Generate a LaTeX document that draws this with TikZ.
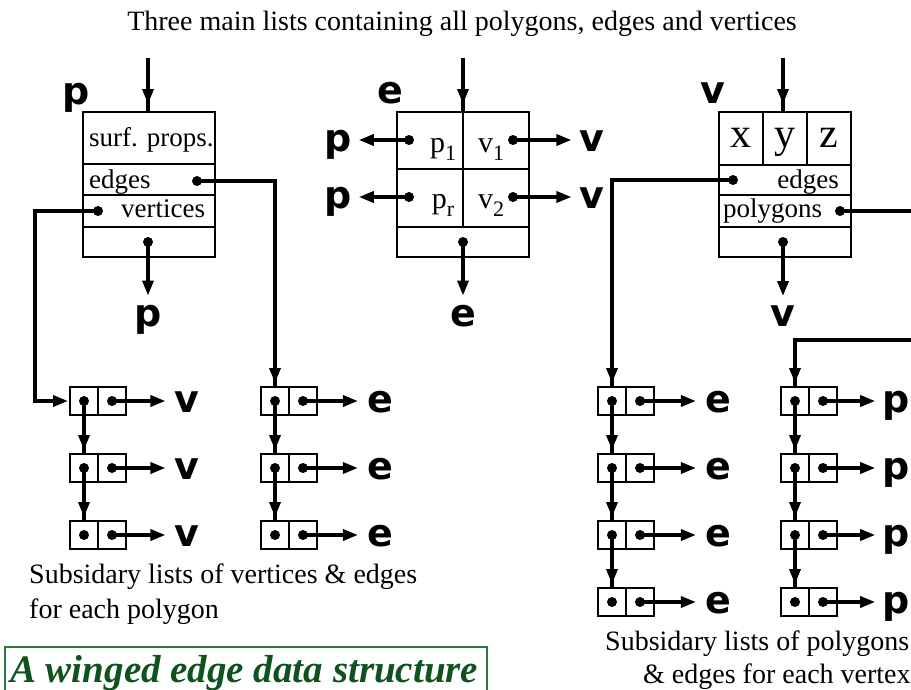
\documentclass[tikz,border=0pt]{standalone}
\usepackage{fontspec}
\setmainfont{Liberation Serif}
\newfontfamily\lblfont{DejaVu Sans}
\usetikzlibrary{arrows.meta,decorations.markings}
\definecolor{titlegreen}{RGB}{14,82,30}
\definecolor{framegreen}{RGB}{50,120,65}
\tikzset{
  cellbox/.style={draw,line width=1.4pt},
  conn/.style={line width=3.4pt},
  tipend/.style={-{Triangle[length=15pt,width=11pt]}},
  arrowat/.style={postaction={decorate},decoration={markings,mark=at position #1 with {\arrow{Triangle[length=15pt,width=11pt]}}}},
  lbl/.style={font=\lblfont\bfseries\fontsize{38}{38}\selectfont,inner sep=0pt,anchor=base},
  txt/.style={font=\fontsize{28}{30}\selectfont,inner sep=0pt},
  boxtxt/.style={font=\fontsize{27}{29}\selectfont,inner sep=0pt},
  bigtxt/.style={font=\fontsize{42}{42}\selectfont,inner sep=0pt,anchor=base},
}
\newcommand\lcell[3]{%
  \draw[cellbox] (#2,#3) rectangle +(56,28);
  \draw[cellbox] (#2+28,#3) -- +(0,28);
  \coordinate (#1l) at (#2+14,#3+14);
  \coordinate (#1r) at (#2+42,#3+14);
  \coordinate (#1t) at (#2+14,#3);
  \fill (#1l) circle (5);
  \fill (#1r) circle (5);
}
\newcommand\subtxt[2]{{\fontsize{30}{30}\selectfont #1}\raisebox{-8pt}{\fontsize{22}{22}\selectfont #2}}
\begin{document}
\begin{tikzpicture}[x=1pt,y=-1pt]
\useasboundingbox (0,0) rectangle (911,689);
\clip (0,0) rectangle (911,689);

% heading
\node[txt,anchor=base] (head) at (462,30) {Three main lists containing all polygons, edges and vertices};

% ---------- polygon record ----------
\draw[cellbox] (83,112) rectangle (215,257);
\draw[cellbox] (83,164) -- (215,164);
\draw[cellbox] (83,195) -- (215,195);
\draw[cellbox] (83,227) -- (215,227);
\node[boxtxt,anchor=base west] (surf) at (89,146) {surf. props.};
\node[boxtxt,anchor=base west] (pedg) at (89,188) {edges};
\node[boxtxt,anchor=base west] (pver) at (121,217) {vertices};
\node[lbl] (ptop) at (76,104) {p};
\coordinate (pin) at (148,58);
\coordinate (pboxtop) at (148,112);
\coordinate (pedot) at (197,181);
\coordinate (pvdot) at (98,211);
\coordinate (pndot) at (148,242);
\fill (pedot) circle (5);
\fill (pvdot) circle (5);
\fill (pndot) circle (5);
\node[lbl] (pnext) at (148,326) {p};
\draw[conn,arrowat=-8pt] (pin) -- (pboxtop);
\draw[conn,tipend,shorten >=9pt] (pndot) -- (pnext.north);

% ---------- edge record ----------
\draw[cellbox] (397,112) rectangle (529,257);
\draw[cellbox] (397,169) -- (529,169);
\draw[cellbox] (397,227) -- (529,227);
\draw[cellbox] (463,112) -- (463,227);
\node[lbl] (etop) at (390,103) {e};
\node[boxtxt,anchor=base] (ep1) at (443,152) {\subtxt{p}{1}};
\node[boxtxt,anchor=base] (ev1) at (491,152) {\subtxt{v}{1}};
\node[boxtxt,anchor=base] (epr) at (443,208) {\subtxt{p}{r}};
\node[boxtxt,anchor=base] (ev2) at (491,208) {\subtxt{v}{2}};
\coordinate (ein) at (463,58);
\coordinate (eboxtop) at (463,112);
\coordinate (ep1d) at (409,140);
\coordinate (eprd) at (409,197);
\coordinate (ev1d) at (513,140);
\coordinate (ev2d) at (513,197);
\coordinate (endot) at (463,242);
\foreach \d in {ep1d,eprd,ev1d,ev2d,endot} \fill (\d) circle (5);
\node[lbl] (lp1) at (338,151) {p};
\node[lbl] (lp2) at (338,208) {p};
\node[lbl] (rv1) at (592,151) {v};
\node[lbl] (rv2) at (592,208) {v};
\node[lbl] (enext) at (463,326) {e};
\draw[conn,arrowat=-8pt] (ein) -- (eboxtop);
\draw[conn,tipend,shorten >=7pt] (ep1d) -- (lp1.east |- ep1d);
\draw[conn,tipend,shorten >=7pt] (eprd) -- (lp2.east |- eprd);
\draw[conn,tipend,shorten >=8pt] (ev1d) -- (rv1.west |- ev1d);
\draw[conn,tipend,shorten >=8pt] (ev2d) -- (rv2.west |- ev2d);
\draw[conn,tipend,shorten >=9pt] (endot) -- (enext.north);

% ---------- vertex record ----------
\draw[cellbox] (719,112) rectangle (851,257);
\draw[cellbox] (719,165) -- (851,165);
\draw[cellbox] (719,195) -- (851,195);
\draw[cellbox] (719,227) -- (851,227);
\draw[cellbox] (763,112) -- (763,165);
\draw[cellbox] (807,112) -- (807,165);
\node[bigtxt] (vx) at (741,147) {x};
\node[bigtxt] (vy) at (785,147) {y};
\node[bigtxt] (vz) at (829,147) {z};
\node[boxtxt,anchor=base east] (vedg) at (839,188) {edges};
\node[boxtxt,anchor=base west] (vpol) at (723,217) {polygons};
\node[lbl] (vtop) at (713,103) {v};
\coordinate (vin) at (783,58);
\coordinate (vboxtop) at (783,112);
\coordinate (vedot) at (733,180);
\coordinate (vpdot) at (840,211);
\coordinate (vndot) at (783,242);
\fill (vedot) circle (5);
\fill (vpdot) circle (5);
\fill (vndot) circle (5);
\node[lbl] (vnext) at (783,326) {v};
\draw[conn,arrowat=-8pt] (vin) -- (vboxtop);
\draw[conn,tipend,shorten >=9pt] (vndot) -- (vnext.north);

% ---------- subsidiary lists of a polygon ----------
\lcell{A1}{70}{387}
\lcell{A2}{70}{454}
\lcell{A3}{70}{521}
\lcell{B1}{261}{387}
\lcell{B2}{261}{454}
\lcell{B3}{261}{521}
\foreach \c/\t in {A1/387,A2/454,A3/521}{
  \node[lbl] (\c v) at (187,\t+25) {v};
  \draw[conn,tipend,shorten >=9pt] (\c r) -- (\c v.west |- \c r);
}
\foreach \c/\t in {B1/387,B2/454,B3/521}{
  \node[lbl] (\c e) at (380,\t+25) {e};
  \draw[conn,tipend,shorten >=9pt] (\c r) -- (\c e.west |- \c r);
}
\draw[conn,arrowat=-4pt] (A1l) -- (A2t);
\draw[conn,arrowat=-4pt] (A2l) -- (A3t);
\draw[conn,arrowat=-4pt] (B1l) -- (B2t);
\draw[conn,arrowat=-4pt] (B2l) -- (B3t);
\draw[conn,tipend,shorten >=2pt] (pvdot) -- (35,211) -- (35,401) -- (A1l -| 70,0);
\draw[conn,arrowat=-4pt] (pedot) -- (B1t |- pedot) -- (B1t);

\node[txt,anchor=base west] (capA) at (29,583) {Subsidary lists of vertices \& edges};
\node[txt,anchor=base west] (capB) at (29,618) {for each polygon};

% ---------- subsidiary lists of a vertex ----------
\lcell{C1}{598}{387}
\lcell{C2}{598}{454}
\lcell{C3}{598}{521}
\lcell{C4}{598}{588}
\lcell{D1}{781}{387}
\lcell{D2}{781}{454}
\lcell{D3}{781}{521}
\lcell{D4}{781}{588}
\foreach \c/\t in {C1/387,C2/454,C3/521,C4/588}{
  \node[lbl] (\c e) at (718,\t+25) {e};
  \draw[conn,tipend,shorten >=9pt] (\c r) -- (\c e.west |- \c r);
}
\foreach \c/\t in {D1/387,D2/454,D3/521,D4/588}{
  \node[lbl] (\c p) at (896,\t+25) {p};
  \draw[conn,tipend,shorten >=7pt] (\c r) -- (\c p.west |- \c r);
}
\draw[conn,arrowat=-4pt] (C1l) -- (C2t);
\draw[conn,arrowat=-4pt] (C2l) -- (C3t);
\draw[conn,arrowat=-4pt] (C3l) -- (C4t);
\draw[conn,arrowat=-4pt] (D1l) -- (D2t);
\draw[conn,arrowat=-4pt] (D2l) -- (D3t);
\draw[conn,arrowat=-4pt] (D3l) -- (D4t);
\draw[conn,arrowat=-4pt] (vedot) -- (C1t |- vedot) -- (C1t);
\draw[conn,arrowat=-4pt] (vpdot) -- (920,211) -- (920,340) -- (D1t |- 0,340) -- (D1t);

\node[txt,anchor=base west] (capC) at (605,650) {Subsidary lists of polygons};
\node[txt,anchor=base west] (capD) at (643,683) {\& edges for each vertex};

% ---------- title ----------
\draw[framegreen,line width=2pt] (5,647) rectangle (487,700);
\node[anchor=base west,inner sep=0pt,text=titlegreen,font=\fontsize{39}{39}\selectfont\bfseries\itshape] (ttl) at (10,682) {A winged edge data structure};
\end{tikzpicture}
\end{document}
